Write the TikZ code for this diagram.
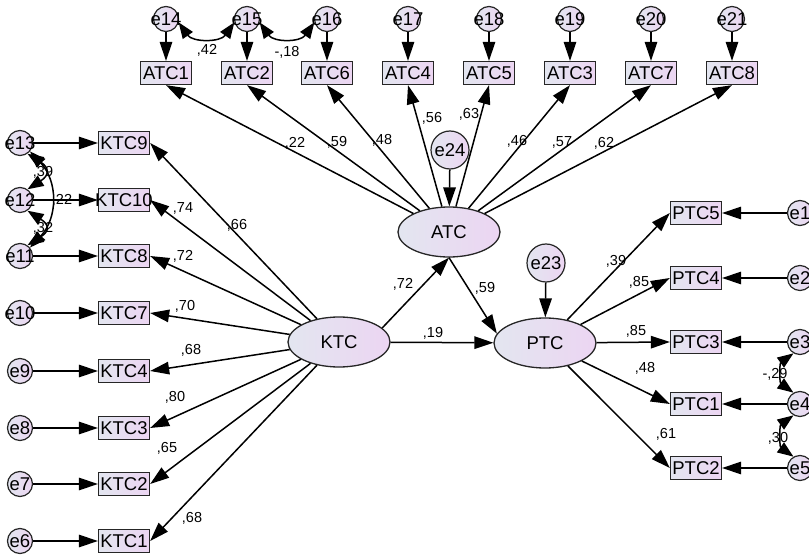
\documentclass[tikz,border=0pt]{standalone}
\usepackage{fontspec}
\setmainfont{Liberation Sans}
\usetikzlibrary{shapes.geometric}
\usetikzlibrary{arrows.meta}

\definecolor{fillL}{RGB}{227,230,240}
\definecolor{fillR}{RGB}{236,213,242}
\newcommand{\zw}[1]{\makebox[0pt]{#1}}

\tikzset{
  obs/.style={draw=black!85, line width=1.3pt, left color=fillL, right color=fillR,
    minimum width=51pt, minimum height=23pt, inner sep=0pt, font=\fontsize{18.5}{18.5}\selectfont},
  err/.style={circle, draw=black!85, line width=1.2pt, left color=fillL, right color=fillR,
    minimum size=25pt, inner sep=0pt, font=\fontsize{18.5}{18.5}\selectfont},
  bigerr/.style={err, minimum size=38pt},
  latent/.style={ellipse, draw=black!85, line width=1.3pt, left color=fillL, right color=fillR,
    minimum width=102pt, minimum height=50pt, inner sep=0pt, font=\fontsize{18.5}{18.5}\selectfont},
  path/.style={line width=1.5pt, -{Triangle[length=19pt,width=12.5pt]}},
  cov/.style={line width=1.5pt, {Triangle[length=16pt,width=12pt]}-{Triangle[length=16pt,width=12pt]}},
  coef/.style={font=\fontsize{14.5}{15}\selectfont, inner sep=0pt, text height=10pt, text depth=0pt},
}

\begin{document}
\begin{tikzpicture}[x=1pt,y=-1pt]
  \useasboundingbox (0,0) rectangle (809,556);

  % latent variables
  \node[latent] (ktc) at (339,342) {KTC};
  \node[latent] (atc) at (449,232) {ATC};
  \node[latent] (ptc) at (545,343) {PTC};
  \node[bigerr] (e24) at (450,150) {\zw{e24}};
  \node[bigerr] (e23) at (546,263) {\zw{e23}};

  % KTC items
  \foreach \i/\y/\e in {9/143/13,10/200/12,8/256/11,7/313/10,4/371/9,3/428/8,2/484/7,1/541/6}
  {
    \node[obs] (k\i) at (124,\y) {\zw{KTC\i}};
    \node[err] (e\e) at (20,\y) {\zw{e\e}};
    \draw[path] (e\e) -- (k\i);
    \draw[path] (ktc) -- (k\i.east);
  }

  % ATC items
  \foreach \i/\x/\e in {1/166/14,2/247/15,6/327/16,4/408/17,5/489/18,3/570/19,7/651/20,8/732/21}
  {
    \node[obs] (a\i) at (\x,73) {\zw{ATC\i}};
    \node[err] (e\e) at (\x,19) {\zw{e\e}};
    \draw[path] (e\e) -- (a\i);
    \draw[path] (atc) -- (a\i.south);
  }

  % PTC items
  \foreach \i/\y/\e in {5/213/1,4/278/2,3/342/3,1/404/4,2/468/5}
  {
    \node[obs] (p\i) at (696,\y) {\zw{PTC\i}};
    \node[err] (e\e) at (800,\y) {\zw{e\e}};
    \draw[path] (e\e) -- (p\i);
    \draw[path] (ptc) -- (p\i.west);
  }

  % structural paths
  \draw[path] (ktc.18) -- (atc.south);
  \draw[path] (atc.south) -- (ptc.169);
  \draw[path] (ktc) -- (ptc);
  \draw[path] (e24) -- (atc);
  \draw[path] (e23) -- (ptc);

  % covariances
  \draw[cov] (e13.-55) .. controls +(22,14) and +(22,-14) .. (e12.55);
  \draw[cov] (e12.-55) .. controls +(22,14) and +(22,-14) .. (e11.55);
  \draw[cov] (e13.-40) .. controls +(28,30) and +(28,-30) .. (e11.40);
  \draw[cov] (e14.-15) .. controls +(14,20) and +(-14,20) .. (e15.-165);
  \draw[cov] (e15.-15) .. controls +(14,20) and +(-14,20) .. (e16.-165);
  \draw[cov] (e3.-120) .. controls +(-14,10) and +(-14,-10) .. (e4.120);
  \draw[cov] (e4.-120) .. controls +(-14,10) and +(-14,-10) .. (e5.120);

  % estimates
  \foreach \t/\x/\y [count=\n] in {{,66}/237/225,{,74}/183/208,{,72}/183/256,{,70}/185/306,
      {,68}/191/349,{,80}/175/396,{,65}/167/447,{,68}/192/517,
      {,39}/43/172,{,22}/62/200,{,32}/43/228,{,42}/207/50,{-,18}/287/52,
      {,22}/295/143,{,59}/337/142,{,48}/382/140,{,56}/432/118,{,63}/469/114,
      {,46}/517/141,{,57}/562/142,{,62}/604/143,
      {,72}/403/283,{,59}/485/288,{,19}/433/332,
      {,39}/616/261,{,85}/639/282,{,85}/636/330,{,48}/645/367,{,61}/666/433,
      {-,29}/775/373,{,30}/778/437}
    \node[coef] (est\n) at (\x,\y) {\t};
\end{tikzpicture}
\end{document}
